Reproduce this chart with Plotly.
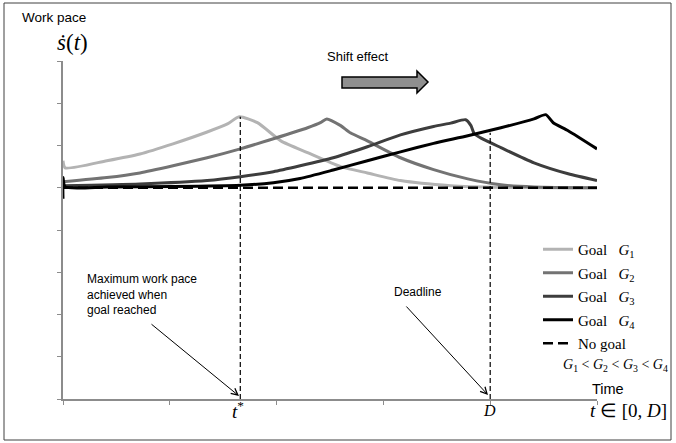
import plotly.graph_objects as go

# ---------------- data ----------------
g1_t = [0, 0.02, 0.41, 0.72, 1.03, 1.35, 1.54, 1.65, 1.82, 2.04, 2.29, 2.60, 2.85, 3.16, 3.63, 4.10, 4.60, 5.0]
g1_v = [0.64, 0.47, 0.64, 0.80, 1.04, 1.32, 1.51, 1.68, 1.54, 1.11, 0.83, 0.50, 0.35, 0.17, 0.05, 0.01, 0.0, 0.0]

g2_t = [0, 0.41, 0.72, 1.03, 1.35, 1.66, 1.97, 2.29, 2.41, 2.47, 2.60, 2.69, 2.85, 3.16, 3.47, 3.79, 4.10, 4.41, 5.0]
g2_v = [0.14, 0.24, 0.35, 0.52, 0.71, 0.92, 1.16, 1.42, 1.54, 1.63, 1.47, 1.30, 1.11, 0.71, 0.43, 0.21, 0.07, 0.02, 0.0]

g3_t = [0, 0.72, 1.35, 1.66, 1.97, 2.22, 2.53, 2.85, 3.16, 3.47, 3.63, 3.77, 3.82, 3.85, 3.91, 4.10, 4.41, 4.73, 5.0]
g3_v = [0.05, 0.09, 0.17, 0.26, 0.38, 0.52, 0.71, 0.97, 1.25, 1.45, 1.53, 1.61, 1.47, 1.28, 1.18, 0.95, 0.59, 0.33, 0.17]

g4_t = [0, 0, 0.02, 0.41, 1.03, 1.66, 1.97, 2.22, 2.53, 2.85, 3.16, 3.47, 3.79, 4.10, 4.41, 4.52, 4.59, 4.73, 5.0]
g4_v = [-0.26, 0.24, 0.02, 0.02, 0.03, 0.06, 0.12, 0.22, 0.42, 0.64, 0.85, 1.05, 1.23, 1.42, 1.63, 1.73, 1.54, 1.35, 0.92]

nogoal_t = [0, 5]
nogoal_v = [0, 0]

t_star = 1.66
t_star_top = 1.68
deadline = 4.0
deadline_top = 1.3
axis_bottom = -5

series_names = ["Goal\u00a0\u00a0\u00a0<i>G</i><sub>1</sub>",
                "Goal\u00a0\u00a0\u00a0<i>G</i><sub>2</sub>",
                "Goal\u00a0\u00a0\u00a0<i>G</i><sub>3</sub>",
                "Goal\u00a0\u00a0\u00a0<i>G</i><sub>4</sub>"]
series_colors = ["#b3b3b3", "#737373", "#3d3d3d", "#000000"]

# ---------------- layout helpers ----------------
W, H = 676, 443
L, R, T, B = 63, 79, 61, 44
PW, PH = W - L - R, H - T - B


def px(x):
    return (x - L) / PW


def py(y):
    return (H - B - y) / PH


SERIF = "Liberation Serif, Times New Roman, serif"
SANS = "Liberation Sans, Arial, sans-serif"

fig = go.Figure()
for t, v, c, n in zip([g1_t, g2_t, g3_t, g4_t], [g1_v, g2_v, g3_v, g4_v], series_colors, series_names):
    fig.add_trace(go.Scatter(x=t, y=v, mode="lines", name=n, legendgroup=n,
                             line=dict(color=c, width=3, shape="spline", smoothing=0.6)))

fig.add_trace(go.Scatter(x=nogoal_t, y=nogoal_v, mode="lines", name="No\u00a0goal", legendgroup="ng",
                         line=dict(color="black", width=2.5, dash="10px,5px")))

fig.add_trace(go.Scatter(x=[t_star, t_star], y=[axis_bottom, t_star_top], mode="lines", showlegend=False,
                         hoverinfo="skip", line=dict(color="black", width=1.2, dash="5px,3px")))
fig.add_trace(go.Scatter(x=[deadline, deadline], y=[axis_bottom, deadline_top], mode="lines", showlegend=False,
                         hoverinfo="skip", line=dict(color="black", width=1.2, dash="5px,3px")))

axis_common = dict(showgrid=False, zeroline=False, showline=True, linecolor="#8c8c8c", linewidth=1.5,
                   ticks="outside", ticklen=4, tickcolor="#8c8c8c", tickwidth=1, dtick=1, tick0=0,
                   showticklabels=False, fixedrange=True)

annotations = []


def txt(text, x, y, size, family, xanchor="left", yanchor="middle", align="left"):
    annotations.append(dict(text=text, x=px(x), y=py(y), xref="paper", yref="paper", showarrow=False,
                            xanchor=xanchor, yanchor=yanchor, align=align,
                            font=dict(size=size, family=family, color="black")))


txt("Work pace", 20, 17, 13.5, SANS)
txt("<i>ṡ</i>(<i>t</i>)", 55, 43, 23, SERIF)
txt("Shift effect", 325, 57, 13, SANS)
txt("Maximum work pace<br>achieved when<br>goal reached", 85, 294, 12, SANS)
txt("Deadline", 392, 292, 12, SANS)
txt("<i>G</i><sub>1</sub> &lt; <i>G</i><sub>2</sub> &lt; <i>G</i><sub>3</sub> &lt; <i>G</i><sub>4</sub>",
    670, 365, 14, SERIF, xanchor="right")
txt("Time", 590, 389, 14.5, SANS)
txt("<i>t</i> ∈ [0, <i>D</i>]", 588, 410, 19, SERIF)
txt("<i>t</i><sup>*</sup>", 230, 410, 19, SERIF)
txt("<i>D</i>", 481, 410, 16, SERIF)


def arrow(tip_x, tip_y, tail_x, tail_y):
    annotations.append(dict(text="", x=px(tip_x), y=py(tip_y), xref="paper", yref="paper", showarrow=True,
                            ax=tail_x - tip_x, ay=tail_y - tip_y, axref="pixel", ayref="pixel",
                            arrowhead=5, arrowsize=1.3, arrowwidth=1, arrowcolor="black"))


arrow(239, 396, 150, 323)
arrow(488, 395, 405, 305)

# block arrow "Shift effect"
pts = [(342, 77), (417, 77), (417, 71), (428, 82), (417, 93), (417, 88), (342, 88)]
path = "M " + " L ".join(f"{px(a):.5f},{py(b):.5f}" for a, b in pts) + " Z"

shapes = [
    dict(type="path", path=path, xref="paper", yref="paper", fillcolor="#8f8f8f",
         line=dict(color="black", width=1.5)),
    dict(type="rect", xref="paper", yref="paper", x0=px(4), x1=px(671), y0=py(440), y1=py(3),
         line=dict(color="#404040", width=1), layer="below"),
]

fig.update_layout(
    width=W, height=H, margin=dict(l=L, r=R, t=T, b=B, pad=0),
    paper_bgcolor="white", plot_bgcolor="white",
    xaxis=dict(range=[0, 5], **axis_common),
    yaxis=dict(range=[-5, 3], **axis_common),
    showlegend=True,
    legend=dict(x=px(538), y=py(233), xanchor="left", yanchor="top", bgcolor="rgba(0,0,0,0)",
                font=dict(family=SERIF, size=15, color="black"), itemwidth=30, tracegroupgap=1,
                traceorder="grouped"),
    annotations=annotations,
    shapes=shapes,
)

fig.write_html("out.html", config={"displayModeBar": False},
               post_script="document.body.style.margin='0';document.body.style.overflow='hidden';")
